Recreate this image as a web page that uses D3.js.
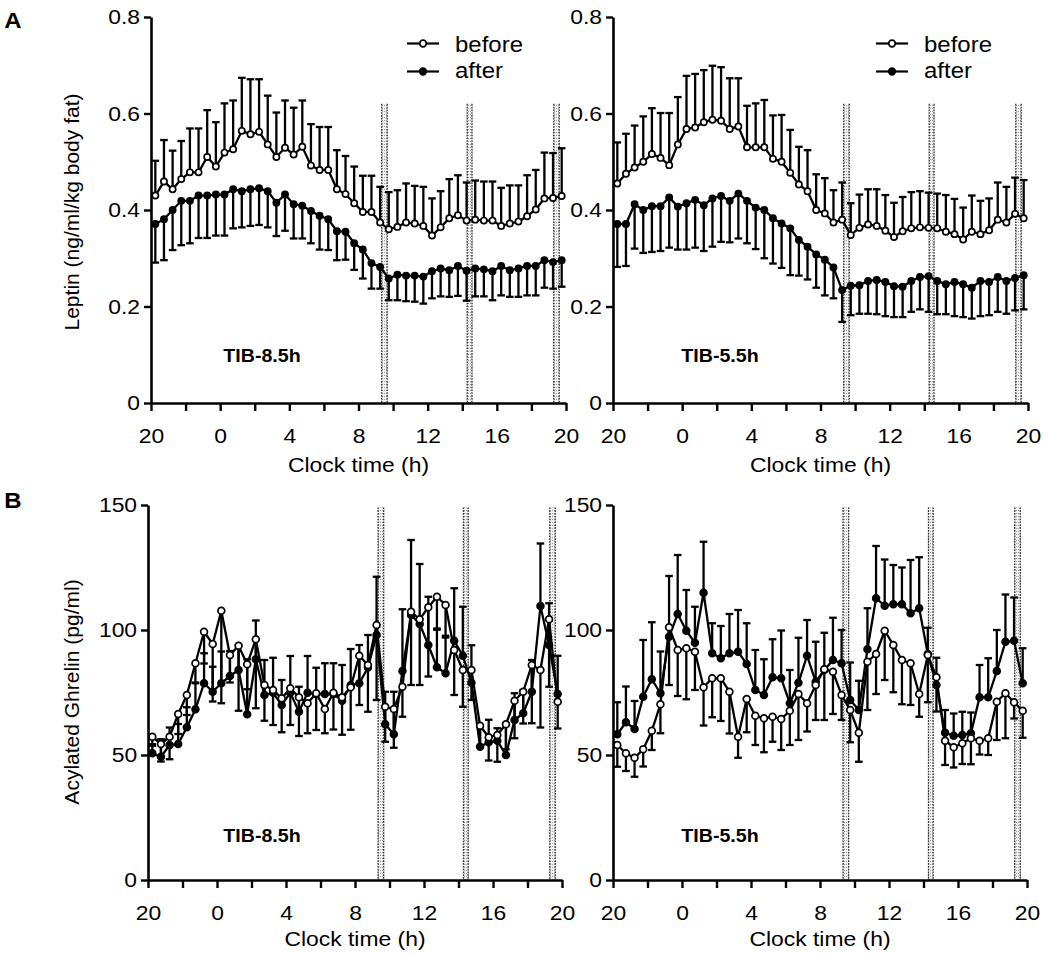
<!DOCTYPE html>
<html><head><meta charset="utf-8">
<script src="https://cdn.jsdelivr.net/npm/d3@7"></script>
<style>body{margin:0;background:#fff}</style>
</head><body><svg id="c" width="1050" height="954"></svg>
<script>
// ---------------- DATA ----------------
const sampleHours = [20.25,20.75,21.25,21.75,22.25,22.75,23.25,23.75,24.25,24.75,25.25,25.75,26.25,26.75,27.25,27.75,28.25,28.75,29.25,29.75,30.25,30.75,31.25,31.75,32.25,32.75,33.25,33.75,34.25,34.75,35.25,35.75,36.25,36.75,37.25,37.75,38.25,38.75,39.25,39.75,40.25,40.75,41.25,41.75,42.25,42.75,43.25,43.75];
const xTickValues = [20,22,24,26,28,30,32,34,36,38,40,42,44];
const leptinTicks = [0,0.2,0.4,0.6,0.8];
const ghrelinTicks = [0,50,100,150];
const mealStart = [33.3,38.25,43.25];
const mealEnd = [33.7,38.6,43.65];
const seriesNames = ["before","after"];
const panelTitles = ["TIB-8.5h","TIB-5.5h"];

const leptin85Before = [0.430,0.459,0.443,0.464,0.478,0.478,0.510,0.490,0.519,0.526,0.564,0.557,0.562,0.536,0.510,0.529,0.515,0.531,0.492,0.483,0.483,0.443,0.433,0.414,0.396,0.396,0.374,0.360,0.365,0.374,0.372,0.367,0.347,0.364,0.383,0.389,0.378,0.380,0.378,0.378,0.367,0.372,0.376,0.387,0.401,0.424,0.425,0.429];
const leptin85BeforeSE = [0.072,0.086,0.080,0.079,0.091,0.091,0.097,0.092,0.102,0.101,0.110,0.114,0.109,0.101,0.092,0.098,0.097,0.096,0.086,0.089,0.089,0.081,0.079,0.076,0.075,0.075,0.074,0.077,0.076,0.081,0.078,0.081,0.077,0.075,0.081,0.083,0.079,0.081,0.081,0.081,0.079,0.079,0.075,0.085,0.082,0.095,0.093,0.099];
const leptin85After = [0.371,0.381,0.400,0.419,0.419,0.430,0.430,0.432,0.432,0.443,0.439,0.443,0.445,0.439,0.415,0.432,0.412,0.409,0.398,0.388,0.381,0.356,0.355,0.331,0.318,0.290,0.282,0.258,0.266,0.264,0.264,0.262,0.273,0.279,0.275,0.284,0.274,0.279,0.277,0.273,0.284,0.275,0.279,0.284,0.284,0.296,0.292,0.296];
const leptin85AfterSE = [0.080,0.085,0.083,0.092,0.088,0.088,0.088,0.085,0.085,0.081,0.075,0.076,0.076,0.075,0.069,0.075,0.071,0.068,0.067,0.070,0.064,0.060,0.058,0.055,0.060,0.053,0.045,0.045,0.053,0.053,0.054,0.056,0.056,0.058,0.055,0.062,0.062,0.058,0.056,0.060,0.061,0.055,0.059,0.061,0.061,0.057,0.055,0.055];

const leptin55Before = [0.455,0.475,0.488,0.500,0.516,0.508,0.493,0.536,0.568,0.571,0.582,0.587,0.585,0.568,0.573,0.530,0.530,0.530,0.506,0.500,0.477,0.453,0.439,0.400,0.393,0.374,0.380,0.348,0.363,0.370,0.367,0.357,0.344,0.356,0.362,0.364,0.363,0.362,0.355,0.350,0.339,0.355,0.350,0.358,0.380,0.374,0.392,0.383];
const leptin55BeforeSE = [0.085,0.083,0.087,0.094,0.095,0.093,0.108,0.098,0.110,0.111,0.108,0.112,0.111,0.105,0.100,0.086,0.091,0.098,0.090,0.097,0.089,0.078,0.085,0.074,0.073,0.067,0.077,0.066,0.069,0.073,0.076,0.074,0.071,0.071,0.075,0.075,0.073,0.072,0.076,0.073,0.066,0.075,0.069,0.066,0.077,0.074,0.075,0.079];
const leptin55After = [0.371,0.371,0.412,0.400,0.408,0.408,0.426,0.407,0.414,0.421,0.410,0.424,0.429,0.419,0.434,0.419,0.405,0.400,0.383,0.372,0.362,0.338,0.324,0.308,0.297,0.281,0.234,0.243,0.244,0.253,0.255,0.251,0.242,0.241,0.253,0.261,0.263,0.253,0.246,0.251,0.246,0.239,0.253,0.251,0.261,0.253,0.259,0.265];
const leptin55AfterSE = [0.089,0.087,0.092,0.089,0.095,0.093,0.104,0.089,0.096,0.099,0.095,0.100,0.095,0.086,0.093,0.088,0.086,0.100,0.094,0.092,0.097,0.074,0.068,0.069,0.074,0.064,0.066,0.061,0.059,0.068,0.071,0.071,0.064,0.063,0.064,0.067,0.074,0.069,0.062,0.071,0.068,0.064,0.073,0.069,0.072,0.068,0.067,0.071];

const ghrelin85Before = [57.3,54.4,57.3,66.4,74.0,86.7,99.3,94.4,107.7,90.0,93.7,86.3,96.3,78.0,76.0,72.7,76.7,73.1,70.7,74.7,68.4,74.9,73.1,77.1,89.7,86.0,102.0,69.3,68.4,77.3,107.3,104.3,109.1,113.3,110.0,92.0,84.0,84.0,61.7,57.1,58.0,62.3,71.7,75.3,86.0,84.0,104.3,71.3];
const ghrelin85BeforeSE = [3,7,9,8,8,8,12.7,23,37,11,26,10,27.6,14.3,14,13.6,14.7,15.5,12,14.7,9.7,14.7,15,17,19.7,18.7,30,14,15.5,12,29.3,26.3,27.7,12.7,13,18,14.7,12,8.4,9.3,10.7,10,15,12.7,23.3,23,27,10.7];
const ghrelin85After = [50.7,49.3,54.0,54.4,61.1,68.3,78.7,75.3,78.7,81.6,84.0,66.3,88.3,74.0,74.9,70.0,74.9,67.3,74.9,74.4,74.4,74.4,71.7,77.9,78.7,85,98.0,62.3,58.3,83.6,106,102.4,94.0,85.1,82.7,95.7,89.7,78.9,53.3,55.1,55.7,50.0,64.0,66.7,75.3,109.6,94.0,74.4];
const ghrelin85AfterSE = [3,7,7,8,8,10.7,12,10,12.7,10,10,22,15.5,14,14,10,14.7,10,14.7,10.5,12.3,12.3,14.3,14.5,15.3,13,23.3,13,17,24.7,30,24,19.3,15,15,21,19.6,15,8.7,9,5,12.7,10.7,9.3,12.7,25,16.7,15.3];

const ghrelin55Before = [54.0,50.7,48.9,52.3,59.7,70.3,101.1,92.0,92.7,91.3,77.1,80.7,80.7,75.3,57.3,72.4,65.7,64.7,65.3,64.4,67.7,74.4,70.7,78.0,84.3,83.3,74.0,68.0,58.9,87.3,90.4,99.7,94.0,88.0,86.7,74.4,90.0,81.1,55.7,53.1,54.7,56.7,55.7,56.7,71.3,74.7,71.1,67.7];
const ghrelin55BeforeSE = [8.7,7.1,7.6,6.9,7.7,11.6,23.1,18.4,20.4,15.3,15.3,15.6,17.1,16.7,8.4,13.3,11.7,13.6,10,12.4,13.7,18.4,11.3,14,20.3,16.9,10,12.9,11.6,19.3,16,19.7,18.9,17.7,16.7,9.1,18.9,13.7,9.7,8.1,8.3,10.4,5.5,6.7,15.3,18,6.5,10.8];
const ghrelin55After = [58.3,63.1,60.4,73.3,80.3,74.7,97.3,106.4,99.7,94.9,114.9,90.7,88.7,90.7,91.3,86.4,76.0,74.0,81.1,80.7,70.7,78.9,89.7,79.3,84.0,88.0,86.7,72.0,68.0,92.3,112.7,109.7,110.3,110.3,106.7,108.7,90.4,78.0,58.9,57.7,58.0,58.7,73.1,73.1,83.6,95.3,95.7,78.7];
const ghrelin55AfterSE = [12.8,14.3,11.2,22.7,22.8,16.7,24.3,23.6,16.3,14.4,20.4,12,12.9,15.7,16.7,16.3,16,14.3,15.2,19.1,13.3,18,14.3,16,14.9,16.9,13.3,15,11.7,16.4,20.9,18.5,15.7,14.7,21.3,20.4,10.5,10.9,9.1,8.9,9.3,8.3,12.9,15.6,16.4,18.9,17.3,14];

// ---------------- DRAWING ----------------
const FONT = '"Liberation Sans", Arial, Helvetica, sans-serif';
const SX = 1.09;
const svg = d3.select('#c');
const defs = svg.append('defs');
const pat = defs.append('pattern').attr('id','stip').attr('patternUnits','userSpaceOnUse').attr('width',2).attr('height',3);
pat.append('rect').attr('width',2).attr('height',3).attr('fill','#f2f2f2');
pat.append('rect').attr('width',1).attr('height',1).attr('fill','#9a9a9a');

function txt(g, x, y, s, size, anchor, weight) {
  return g.append('text').attr('transform', `translate(${x},${y}) scale(${SX},1)`)
    .attr('font-family', FONT).attr('font-size', size).attr('text-anchor', anchor || 'middle')
    .attr('font-weight', weight || 'normal').attr('fill', '#000').text(s);
}

function panel(cfg) {
  const g = svg.append('g');
  const x = d3.scaleLinear().domain([20,44]).range([cfg.x0, cfg.x1]);
  const y = d3.scaleLinear().domain([0, cfg.yMax]).range([cfg.yB, cfg.yT]);

  // meal bands
  mealStart.forEach((s,k) => {
    const bx = x(s), bw = x(mealEnd[k]) - x(s), by = y(cfg.bandTop), bh = y(0) - y(cfg.bandTop);
    g.append('rect').attr('x',bx).attr('y',by).attr('width',bw).attr('height',bh).attr('fill','url(#stip)');
    [bx+0.7, bx+bw-0.7].forEach(ex => g.append('line').attr('x1',ex).attr('x2',ex).attr('y1',by).attr('y2',by+bh)
      .attr('stroke','#333').attr('stroke-width',1.3).attr('stroke-dasharray','1.6,1.2'));
  });

  const series = [
    {v: cfg.before, se: cfg.beforeSE, dir: cfg.beforeDir, fill: '#fff'},
    {v: cfg.after, se: cfg.afterSE, dir: -cfg.beforeDir, fill: '#000'}
  ];
  // error bars
  series.forEach(s => {
    const eb = g.append('g').attr('stroke','#000').attr('stroke-width',2.3);
    sampleHours.forEach((h,i) => {
      const px = x(h), y1 = y(s.v[i]), y2 = y(s.v[i] + s.dir * s.se[i]);
      eb.append('line').attr('x1',px).attr('x2',px).attr('y1',y1).attr('y2',y2);
      eb.append('line').attr('x1',px-3.8).attr('x2',px+3.8).attr('y1',y2).attr('y2',y2);
    });
  });
  // lines
  const line = d3.line().x((d,i) => x(sampleHours[i])).y(d => y(d));
  [series[1], series[0]].forEach(s => {
    g.append('path').datum(s.v).attr('d', line).attr('fill','none').attr('stroke','#000').attr('stroke-width',2.3);
  });
  // points
  [series[1], series[0]].forEach(s => {
    g.append('g').selectAll('circle').data(s.v).join('circle')
      .attr('cx',(d,i) => x(sampleHours[i])).attr('cy', d => y(d)).attr('r', cfg.r)
      .attr('fill', s.fill).attr('stroke','#000').attr('stroke-width',1.7);
  });

  // axes
  const yAx = d3.axisLeft(y).tickValues(cfg.yTicks).tickFormat(cfg.yFmt).tickSizeInner(7).tickSizeOuter(0).tickPadding(3);
  const ya = g.append('g').attr('transform',`translate(${cfg.x0},0)`).call(yAx);
  const xAx = d3.axisBottom(x).tickValues(xTickValues).tickFormat(d => ((d-20)%4===0 ? String(d%24) : '')).tickSizeInner(8).tickSizeOuter(0).tickPadding(17);
  const xa = g.append('g').attr('transform',`translate(0,${cfg.yB})`).call(xAx);
  [ya, xa].forEach(a => {
    a.select('.domain').attr('stroke','#000').attr('stroke-width',2.6);
    a.selectAll('.tick line').attr('stroke','#000').attr('stroke-width',2.4);
    a.selectAll('.tick text').attr('font-family',FONT).attr('font-size',21).attr('fill','#000');
  });
  ya.selectAll('.tick text').attr('transform',`scale(${SX},1)`);
  xa.selectAll('.tick text').attr('transform',`scale(${SX},1)`);
  // x title
  txt(g, (cfg.x0+cfg.x1)/2, cfg.yB + cfg.titleDy, 'Clock time (h)', 21);
  // panel tag
  txt(g, cfg.tagX, cfg.tagY, cfg.title, 18, 'middle', 'bold');

  if (cfg.legend) {
    const lx = cfg.legX;
    [[43.5, '#fff', seriesNames[0], 51.5],[71.5, '#000', seriesNames[1], 77.5]].forEach(([ly, f, name, ty]) => {
      g.append('line').attr('x1',lx).attr('x2',lx+32).attr('y1',ly).attr('y2',ly).attr('stroke','#000').attr('stroke-width',2.2);
      g.append('circle').attr('cx',lx+16).attr('cy',ly).attr('r',3.3).attr('fill',f).attr('stroke','#000').attr('stroke-width',1.7);
      txt(g, lx+48, ty, name, 22, 'start');
    });
  }
}

const fmtLeptin = d => d === 0 ? '0' : d3.format('.1f')(d);
const fmtGhrelin = d => String(d);

panel({x0:151, x1:566, yT:17, yB:403, yMax:0.8, yTicks:leptinTicks, yFmt:fmtLeptin, bandTop:0.62, titleDy:69,
  before:leptin85Before, beforeSE:leptin85BeforeSE, after:leptin85After, afterSE:leptin85AfterSE, beforeDir:1,
  r:3.1, title:panelTitles[0], tagX:262, tagY:362, legend:true, legX:407});
panel({x0:613, x1:1028, yT:17, yB:403, yMax:0.8, yTicks:leptinTicks, yFmt:fmtLeptin, bandTop:0.62, titleDy:69,
  before:leptin55Before, beforeSE:leptin55BeforeSE, after:leptin55After, afterSE:leptin55AfterSE, beforeDir:1,
  r:3.1, title:panelTitles[1], tagX:720, tagY:362, legend:true, legX:876});
panel({x0:148, x1:562, yT:505, yB:880, yMax:150, yTicks:ghrelinTicks, yFmt:fmtGhrelin, bandTop:149, titleDy:66,
  before:ghrelin85Before, beforeSE:ghrelin85BeforeSE, after:ghrelin85After, afterSE:ghrelin85AfterSE, beforeDir:-1,
  r:3.4, title:panelTitles[0], tagX:262, tagY:842, legend:false});
panel({x0:613, x1:1027, yT:505, yB:880, yMax:150, yTicks:ghrelinTicks, yFmt:fmtGhrelin, bandTop:149, titleDy:66,
  before:ghrelin55Before, beforeSE:ghrelin55BeforeSE, after:ghrelin55After, afterSE:ghrelin55AfterSE, beforeDir:-1,
  r:3.4, title:panelTitles[1], tagX:720, tagY:842, legend:false});

// y titles and panel letters
svg.append('text').attr('transform','translate(79,212) rotate(-90)').attr('font-family',FONT).attr('font-size',21)
  .attr('text-anchor','middle').text('Leptin (ng/ml/kg body fat)');
svg.append('text').attr('transform','translate(79,692) rotate(-90)').attr('font-family',FONT).attr('font-size',21)
  .attr('text-anchor','middle').text('Acylated Ghrelin (pg/ml)');
txt(svg, 13, 28, 'A', 22, 'middle', 'bold');
txt(svg, 13, 508, 'B', 22, 'middle', 'bold');
</script>
</body></html>
